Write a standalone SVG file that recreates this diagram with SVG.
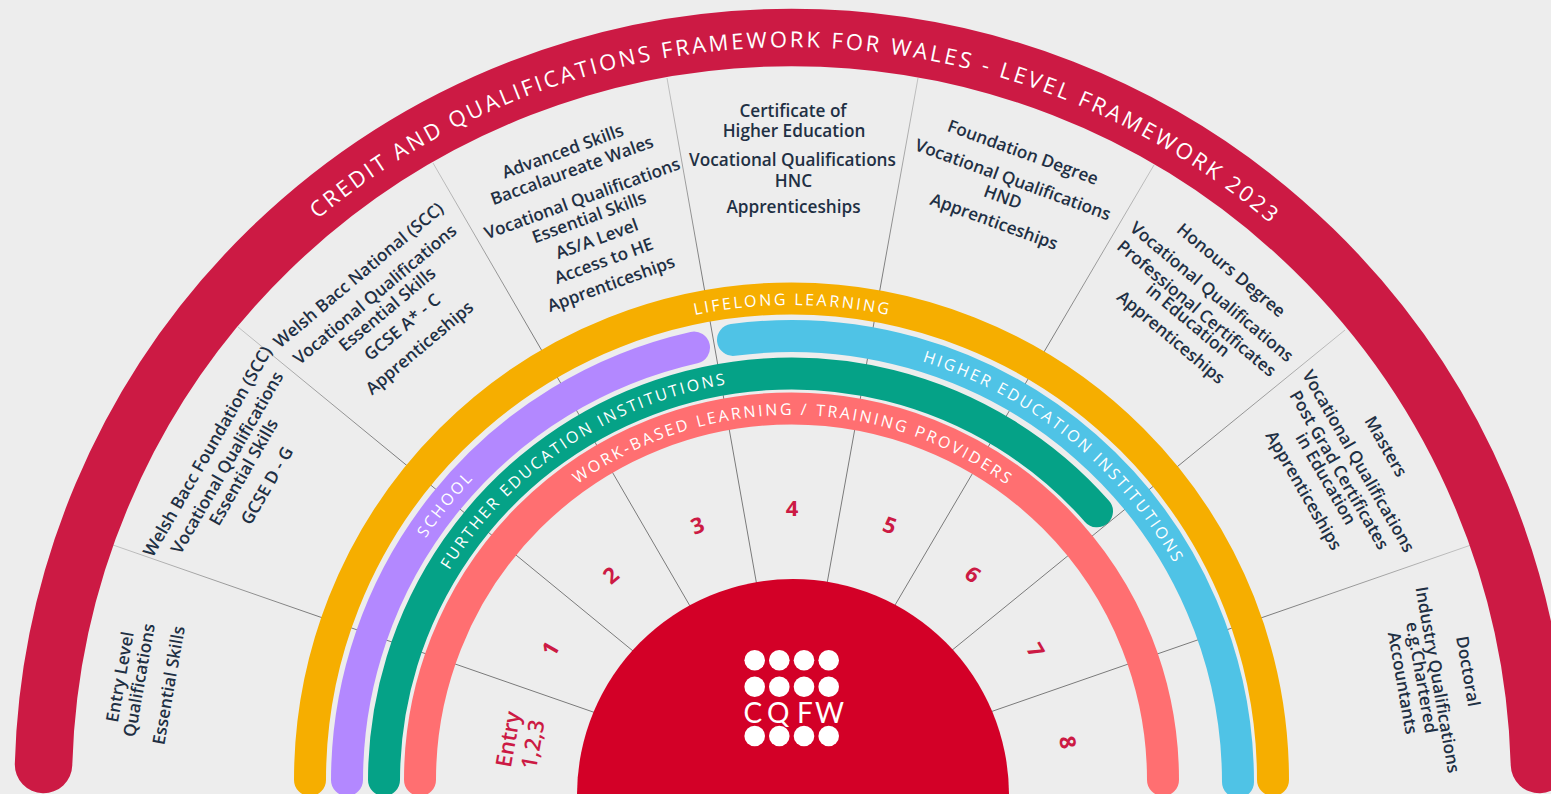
<svg xmlns="http://www.w3.org/2000/svg" width="1551" height="794" viewBox="0 0 1551 794">
<style>
.band{fill:none;stroke-width:32;stroke-linecap:round}
.arc{font-family:"Open Sans","Noto Sans",sans-serif;fill:#fff;font-size:16px;letter-spacing:2.4px;text-anchor:middle}
.lab{font-family:"Open Sans","Noto Sans",sans-serif;font-weight:600;font-size:17.2px;fill:#1f3044;text-anchor:middle}
.num{font-family:"Open Sans","Noto Sans",sans-serif;font-weight:700;font-size:22px;fill:#cc1a44;text-anchor:middle}
.ent{font-family:"Open Sans","Noto Sans",sans-serif;font-weight:600;font-size:22px;fill:#cc1a44;text-anchor:middle}
.dot{fill:#fff}
</style>
<defs>
<radialGradient id="fade" gradientUnits="userSpaceOnUse" cx="791.5" cy="781" r="720">
<stop offset="0.7" stop-color="#7a7a7a"/><stop offset="1" stop-color="#c4c4c4"/>
</radialGradient>
<path id="pTitle" d="M52.5 786A739 739 0 0 1 1530.5 786"/>
<path id="pLife" d="M315.5 781A476 476 0 0 1 1267.5 781"/>
<path id="pSchool" d="M352.5 781A439 439 0 0 1 1230.5 781"/>
<path id="pFurther" d="M389.5 781A402 402 0 0 1 1193.5 781"/>
<path id="pHigher" d="M350.5 782.5A441 441 0 0 1 1232.5 782.5"/>
<path id="pWork" d="M425.5 781A366 366 0 0 1 1157.5 781"/>
</defs>
<rect width="1551" height="794" fill="#ededed"/>
<g id="connectors" fill="none" stroke="url(#fade)" stroke-width="1">
<line x1="655.8" y1="733.8" x2="113" y2="545"/>
<line x1="680.8" y1="690.2" x2="238" y2="327"/>
<line x1="719.8" y1="657.4" x2="433" y2="163"/>
<line x1="766.6" y1="640.4" x2="667" y2="78"/>
<line x1="816.8" y1="640.4" x2="918" y2="78"/>
<line x1="864" y1="657.8" x2="1154" y2="165"/>
<line x1="902.2" y1="690.8" x2="1345" y2="330"/>
<line x1="927.4" y1="733.8" x2="1471" y2="545"/>
</g>
<g id="band-title">
<path d="M43.55 764.5A748.25 748.25 0 0 1 1539.45 764.5" fill="none" stroke="#cc1a44" stroke-width="57.5" stroke-linecap="round"/>
<text font-family="'Open Sans','Noto Sans',sans-serif" font-size="22" fill="#fff" letter-spacing="2.81" text-anchor="middle"><textPath href="#pTitle" startOffset="1165">CREDIT AND QUALIFICATIONS FRAMEWORK FOR WALES - LEVEL FRAMEWORK 2023</textPath></text>
</g>
<g id="band-lifelong">
<path class="band" d="M310 780A481.5 481.5 0 0 1 1273 780" stroke="#f6ae00"/>
<text class="arc"><textPath href="#pLife" startOffset="748.7">LIFELONG LEARNING</textPath></text>
</g>
<g id="band-school">
<path class="band" d="M347 780A444.5 444.5 0 0 1 694 347.6" stroke="#b388ff"/>
<text class="arc"><textPath href="#pSchool" startOffset="296">SCHOOL</textPath></text>
</g>
<g id="band-higher">
<path class="band" d="M733 339.9A446.5 446.5 0 0 1 1238 782" stroke="#4fc3e6"/>
<text class="arc"><textPath href="#pHigher" startOffset="991.5">HIGHER EDUCATION INSTITUTIONS</textPath></text>
</g>
<g id="band-further">
<path class="band" d="M384 780A407.5 407.5 0 0 1 1097 511.3" stroke="#05a287"/>
<text class="arc"><textPath href="#pFurther" startOffset="394.5">FURTHER EDUCATION INSTITUTIONS</textPath></text>
</g>
<g id="band-work">
<path class="band" d="M420 780A371.5 371.5 0 0 1 1163 780" stroke="#ff6f71"/>
<text class="arc" style="letter-spacing:2.5px"><textPath href="#pWork" startOffset="576.5">WORK-BASED LEARNING / TRAINING PROVIDERS</textPath></text>
</g>
<g id="level-entry" transform="rotate(-80 791.5 781)">
<text class="lab" x="777.5" y="107.5">Entry Level</text>
<text class="lab" x="777.5" y="127">Qualifications</text>
<text class="lab" x="777.5" y="157">Essential Skills</text>
<text class="ent" x="783.5" y="502.4">Entry</text>
<text class="ent" x="782.5" y="527.6">1,2,3</text>
</g>
<g id="level-1" transform="rotate(-60 791.5 781)">
<text class="lab" x="785" y="116.4">Welsh Bacc Foundation (SCC)</text>
<text class="lab" x="785" y="139">Vocational Qualifications</text>
<text class="lab" x="785" y="158">Essential Skills</text>
<text class="lab" x="785" y="185">GCSE D - G</text>
<text class="num" x="785.5" y="514">1</text>
</g>
<g id="level-2" transform="rotate(-40 791.5 781)">
<text class="lab" x="785" y="121">Welsh Bacc National (SCC)</text>
<text class="lab" x="785" y="146.4">Vocational Qualifications</text>
<text class="lab" x="785" y="165.5">Essential Skills</text>
<text class="lab" x="785" y="189">GCSE A* - C</text>
<text class="lab" x="785" y="216">Apprenticeships</text>
<text class="num" x="785.5" y="515">2</text>
</g>
<g id="level-3" transform="rotate(-20 791.5 781)">
<text class="lab" x="792" y="117">Advanced Skills</text>
<text class="lab" x="794" y="138">Baccalaureate Wales</text>
<text class="lab" x="794" y="168">Vocational Qualifications</text>
<text class="lab" x="794" y="188">Essential Skills</text>
<text class="lab" x="794" y="211">AS/A Level</text>
<text class="lab" x="793" y="234">Access to HE</text>
<text class="lab" x="792" y="258">Apprenticeships</text>
<text class="num" x="790.5" y="516.6">3</text>
</g>
<g id="level-4">
<text class="lab" x="793" y="117">Certificate of</text>
<text class="lab" x="794" y="137">Higher Education</text>
<text class="lab" x="792.5" y="166">Vocational Qualifications</text>
<text class="lab" x="793.5" y="187">HNC</text>
<text class="lab" x="793.5" y="213">Apprenticeships</text>
<text class="num" x="792" y="516">4</text>
</g>
<g id="level-5" transform="rotate(20 791.5 781)">
<text class="lab" x="794" y="117">Foundation Degree</text>
<text class="lab" x="794" y="146">Vocational Qualifications</text>
<text class="lab" x="790.5" y="166">HND</text>
<text class="lab" x="790.5" y="192">Apprenticeships</text>
<text class="num" x="796.5" y="515">5</text>
</g>
<g id="level-6" transform="rotate(40 791.5 781)">
<text class="lab" x="800" y="113">Honours Degree</text>
<text class="lab" x="799" y="142">Vocational Qualifications</text>
<text class="lab" x="798" y="164.5">Professional Certificates</text>
<text class="lab" x="799" y="179">in Education</text>
<text class="lab" x="797" y="203">Apprenticeships</text>
<text class="num" x="797.5" y="514">6</text>
</g>
<g id="level-7" transform="rotate(60 791.5 781)">
<text class="lab" x="799" y="105">Masters</text>
<text class="lab" x="798" y="136">Vocational Qualifications</text>
<text class="lab" x="796" y="157">Post Grad Certificates</text>
<text class="lab" x="797" y="173">in Education</text>
<text class="lab" x="796" y="198">Apprenticeships</text>
<text class="num" x="800.5" y="512">7</text>
</g>
<g id="level-8" transform="rotate(80 791.5 781)">
<text class="lab" x="801" y="101.6">Doctoral</text>
<text class="lab" x="804" y="133">Industry Qualifications</text>
<text class="lab" x="799" y="148.5">e.g.Chartered</text>
<text class="lab" x="801" y="168">Accountants</text>
<text class="num" x="801.5" y="510">8</text>
</g>
<g id="logo">
<circle cx="793" cy="795" r="216" fill="#d30027"/>
<g class="dot">
<circle cx="754.7" cy="660.3" r="10.3"/><circle cx="779.3" cy="660.3" r="10.3"/><circle cx="804" cy="660.3" r="10.3"/><circle cx="828.7" cy="660.3" r="10.3"/>
<circle cx="754.7" cy="686.7" r="10.3"/><circle cx="779.3" cy="686.7" r="10.3"/><circle cx="804" cy="686.7" r="10.3"/><circle cx="828.7" cy="686.7" r="10.3"/>
<circle cx="754.7" cy="736" r="10.3"/><circle cx="779.3" cy="736" r="10.3"/><circle cx="804" cy="736" r="10.3"/><circle cx="828.7" cy="736" r="10.3"/>
</g>
<text font-family="Lato,sans-serif" font-size="28" fill="#fff" x="743.5 767 797 815" y="722.7">CQFW</text>
</g>
</svg>
